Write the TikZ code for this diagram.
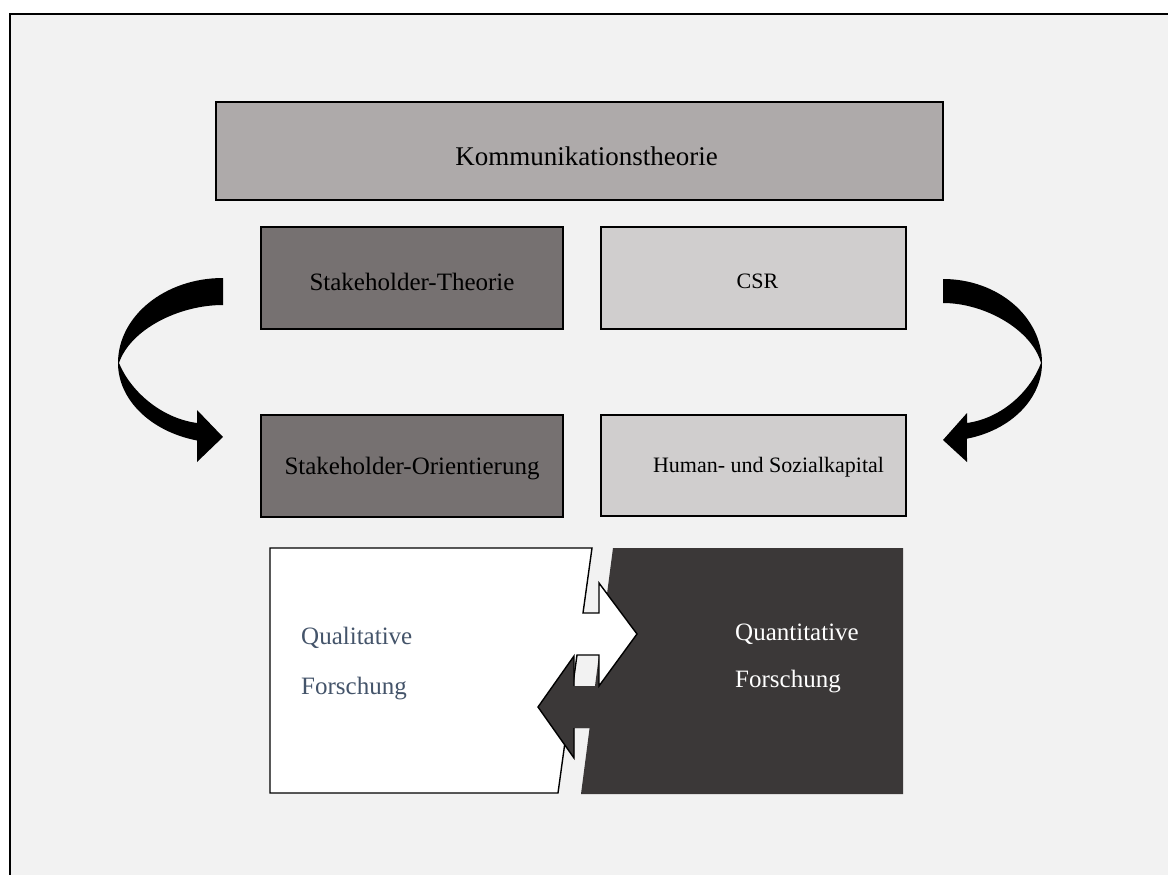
\documentclass[tikz,border=0pt]{standalone}
\usepackage{fontspec}
\setmainfont{Liberation Serif}
\definecolor{pagebg}{HTML}{F2F2F2}
\definecolor{boxmid}{HTML}{AEAAAA}
\definecolor{boxdark}{HTML}{767171}
\definecolor{boxlight}{HTML}{D0CECE}
\definecolor{panel}{HTML}{3B3838}
\definecolor{slate}{HTML}{44546A}
\begin{document}
\begin{tikzpicture}[x=1pt,y=-1pt,
  topic/.style={draw=black, line width=1.6pt, inner sep=0pt},
  caption/.style={inner sep=0pt, text=black},
  outline/.style={draw=black, line width=1.4pt, line join=miter},
  turn/.style={fill=black, draw=none},
  research/.style={inner sep=0pt, align=left, anchor=west,
    font=\fontsize{25}{50}\selectfont}]
\useasboundingbox (0,0) rectangle (1168,875);
\fill[white] (0,0) rectangle (1168,875);
\clip (0,0) rectangle (1168,875);
% framed slide area
\draw[fill=pagebg, line width=1.5pt] (10,14) rectangle (1200,900);

% theory boxes
\node[topic, fill=boxmid, minimum width=727, minimum height=98] (komm) at (579.5,151) {};
\node[topic, fill=boxdark, minimum width=302, minimum height=102] (sht) at (412,278) {};
\node[topic, fill=boxlight, minimum width=305, minimum height=102] (csr) at (753.5,278) {};
\node[topic, fill=boxdark, minimum width=302, minimum height=102] (sho) at (412,466) {};
\node[topic, fill=boxlight, minimum width=305, minimum height=101] (hsk) at (753.5,465.5) {};

\node[caption, font=\fontsize{27}{30}\selectfont] (kommtxt) at ([shift={(7,5)}]komm.center) {Kommunikationstheorie};
\node[caption, font=\fontsize{25}{28}\selectfont] (shttxt) at ([shift={(0,4)}]sht.center) {Stakeholder-Theorie};
\node[caption, font=\fontsize{22}{26}\selectfont] (csrtxt) at ([shift={(4,3)}]csr.center) {CSR};
\node[caption, font=\fontsize{25}{28}\selectfont] (shotxt) at ([shift={(0,3)}]sho.center) {Stakeholder-Orientierung};
\node[caption, font=\fontsize{22}{26}\selectfont] (hsktxt) at ([shift={(15,2)}]hsk.center) {Human- und Sozialkapital};

% curved arrows (twisted ribbon with arrow head)
\fill[turn] (223,278) arc[start angle=270, end angle=180, x radius=105, y radius=85]
  arc[start angle=180, end angle=104.3, x radius=105, y radius=80]
  -- (197,462) -- (223,437) -- (197,410) -- (197,423)
  .. controls (160,418) and (130,390) .. (119,363)
  .. controls (130,330) and (178,305) .. (223,305)
  -- cycle;
\fill[turn] (943,279) arc[start angle=270, end angle=360, x radius=99, y radius=84]
  arc[start angle=0, end angle=76, x radius=99, y radius=78]
  -- (967,462) -- (943,440) -- (967,413) -- (967,423)
  .. controls (1003,418) and (1031,390) .. (1041,363)
  .. controls (1032,330) and (985,303) .. (943,303)
  -- cycle;

% interlocking research panels
\fill[panel] (613,548) -- (903,548) -- (903,794) -- (581,794) -- (589.6,728)
  -- (574,728) -- (574,758) -- (538,707) -- (574,656) -- (574,686) -- (595,686) -- cycle;
\path[outline, fill=white] (270,548) -- (592,548) -- (583,613) -- (599,613) -- (599,583)
  -- (637,634) -- (599,686) -- (599,655) -- (577,655) -- (558,793) -- (270,793) -- cycle;
\fill[panel] (574,686) -- (574,656) -- (538,707) -- (574,758) -- (574,728) -- (590,728) -- (595,686) -- cycle;
\draw[outline] (574,686) -- (574,656) -- (538,707) -- (574,758) -- (574,728);

\node[research, text=slate] (qual) at (301,664) {Qualitative\\Forschung};
\node[research, text=white, font=\fontsize{25}{47}\selectfont] (quant) at (735,658) {Quantitative\\Forschung};
\end{tikzpicture}
\end{document}
